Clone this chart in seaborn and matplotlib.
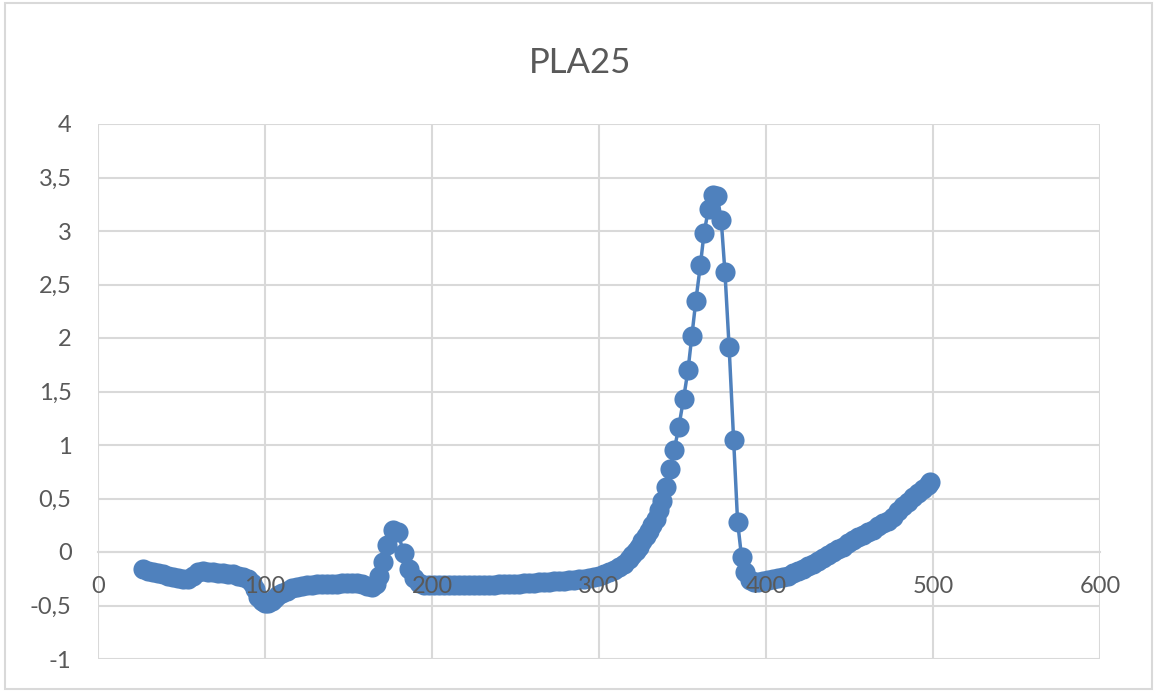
import matplotlib
matplotlib.use("Agg")
import matplotlib.pyplot as plt
import seaborn as sns
import pandas as pd
from matplotlib.ticker import FuncFormatter, MultipleLocator
from matplotlib.patches import Rectangle

# values
temp = [27, 30, 33, 36, 39, 42, 45, 48, 51, 54, 57, 60, 63, 66, 69, 72, 75, 78, 81, 84,
        87, 90, 92, 94, 96, 98, 100, 102, 104, 106, 108, 110, 113, 116, 119, 122, 125,
        128, 131, 134, 137, 140, 143, 146, 149, 152, 155, 158, 161, 164, 166.5, 168.5,
        170.5, 173, 176.5, 179.5, 183, 186, 189, 192, 195, 198, 201, 204, 207, 210, 213,
        216, 219, 222, 225, 228, 231, 234, 237, 240, 243, 246, 249, 252, 255, 258, 261,
        264, 267, 270, 273, 276, 279, 282, 285, 288, 291, 294, 297, 300, 303, 306, 309,
        312, 315, 318, 320, 322, 324, 326, 328, 330, 332, 334, 336, 338, 340, 342.5, 345,
        347.8, 350.6, 353.3, 355.6, 358, 360.7, 362.9, 365.6, 368.1, 370.8, 373.2, 375.4,
        377.9, 380.6, 383, 385.4, 387.7, 390.5, 393, 395.5, 398, 401, 404, 407, 410, 413,
        416, 419, 422, 425, 428, 431, 434, 437, 440, 443, 446, 449, 452, 455, 458, 461,
        464, 467, 470, 473, 476, 479, 482, 485, 488, 491, 494, 497, 498.5]
signal = [-0.16, -0.18, -0.19, -0.20, -0.21, -0.22, -0.23, -0.24, -0.25, -0.25, -0.22,
          -0.19, -0.18, -0.19, -0.19, -0.20, -0.20, -0.21, -0.21, -0.22, -0.23, -0.25,
          -0.29, -0.35, -0.42, -0.46, -0.48, -0.48, -0.46, -0.43, -0.40, -0.38, -0.36,
          -0.34, -0.33, -0.32, -0.31, -0.31, -0.30, -0.30, -0.30, -0.30, -0.30, -0.29,
          -0.29, -0.29, -0.29, -0.30, -0.32, -0.33, -0.30, -0.22, -0.09, 0.07, 0.21, 0.19,
          -0.01, -0.16, -0.24, -0.29, -0.31, -0.31, -0.31, -0.31, -0.31, -0.31, -0.31,
          -0.31, -0.31, -0.31, -0.31, -0.31, -0.31, -0.31, -0.31, -0.30, -0.30, -0.30,
          -0.30, -0.30, -0.29, -0.29, -0.29, -0.28, -0.28, -0.28, -0.27, -0.27, -0.27,
          -0.26, -0.26, -0.25, -0.25, -0.24, -0.23, -0.22, -0.21, -0.19, -0.17, -0.14,
          -0.11, -0.07, -0.03, 0.01, 0.05, 0.10, 0.15, 0.20, 0.25, 0.31, 0.39, 0.48, 0.61,
          0.78, 0.95, 1.17, 1.43, 1.70, 2.02, 2.35, 2.68, 2.98, 3.21, 3.34, 3.33, 3.10,
          2.62, 1.92, 1.05, 0.28, -0.05, -0.19, -0.26, -0.28, -0.28, -0.27, -0.26, -0.25,
          -0.24, -0.23, -0.22, -0.20, -0.18, -0.16, -0.13, -0.11, -0.08, -0.06, -0.03,
          0.00, 0.03, 0.05, 0.08, 0.11, 0.14, 0.16, 0.19, 0.21, 0.24, 0.27, 0.29, 0.33,
          0.38, 0.43, 0.47, 0.51, 0.55, 0.59, 0.63, 0.65]

title = "PLA25"
x_ticks = [0, 100, 200, 300, 400, 500, 600]

blue = "#4F81BD"
grid_col = "#D9D9D9"
text_col = "#595959"

sns.set_theme(style="whitegrid")
plt.rcParams["font.family"] = ["Lato", "DejaVu Sans"]

df = pd.DataFrame({"temp": temp, "signal": signal})

fig = plt.figure(figsize=(11.57, 6.92), dpi=100)
ax = fig.add_axes([98 / 1157, 1 - 659 / 692, (1100 - 98) / 1157, (659 - 124) / 692])

# vertical grid drawn by hand so the x axis (its labels) can sit above the data
ax.vlines(x_ticks, -1, 4, color=grid_col, linewidth=1.5, zorder=0)

sns.lineplot(data=df, x="temp", y="signal", sort=False, ax=ax, color=blue,
             linewidth=2.5, marker="o", markersize=14.5, markeredgewidth=0, zorder=2)

ax.set_xlim(0, 600)
ax.set_ylim(-1, 4)
ax.set_xticks(x_ticks)
ax.yaxis.set_major_locator(MultipleLocator(0.5))
ax.yaxis.set_major_formatter(FuncFormatter(lambda v, p: f"{v:g}".replace(".", ",")))
ax.set_xlabel("")
ax.set_ylabel("")

ax.grid(False, axis="x")
ax.grid(True, axis="y", color=grid_col, linewidth=1.5)
ax.set_axisbelow(True)
ax.xaxis.set_zorder(5)
for side in ["top", "right", "left"]:
    ax.spines[side].set_visible(False)
ax.spines["bottom"].set_position(("data", 0))
ax.spines["bottom"].set_color(grid_col)
ax.spines["bottom"].set_linewidth(1.5)
ax.spines["bottom"].set_zorder(0.5)
ax.tick_params(axis="x", length=0, pad=17, labelsize=17, labelcolor=text_col)
ax.tick_params(axis="y", length=0, pad=19, labelsize=17, labelcolor=text_col)

fig.text(0.501, 1 - 73 / 692, title, ha="center", va="baseline",
         fontsize=25, color=text_col)

fig.patches.append(Rectangle((0.004, 0.004), 0.992, 0.992, transform=fig.transFigure,
                             fill=False, edgecolor=grid_col, linewidth=1.5))

fig.savefig("out.png", dpi=100)
